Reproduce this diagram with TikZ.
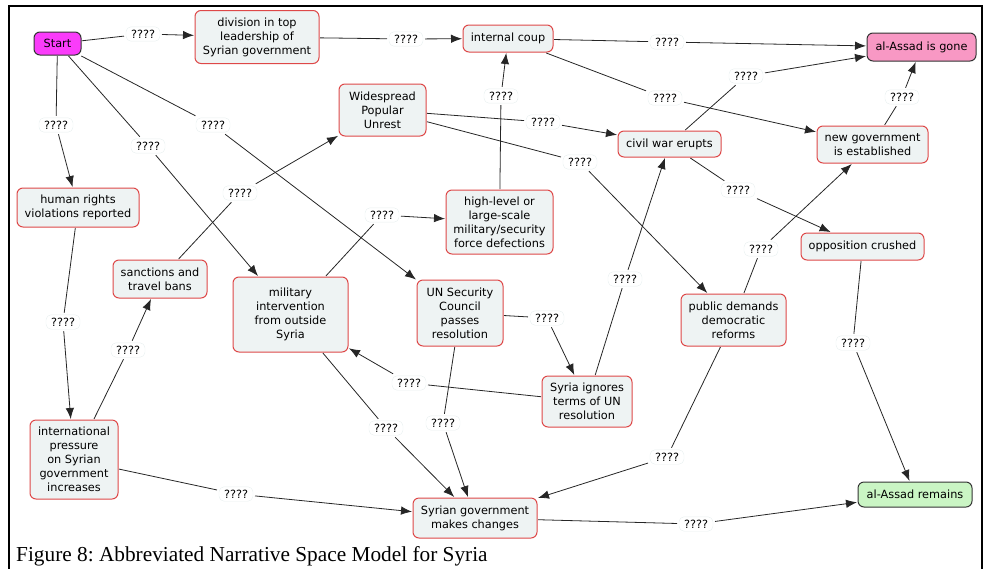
\documentclass[tikz,border=0pt]{standalone}
\usepackage{fontspec}
\usepackage{tikz}
\usetikzlibrary{arrows.meta}
\newfontfamily\mapfont{DejaVu Sans}
\newfontfamily\capfont{Liberation Serif}
\definecolor{conceptfill}{RGB}{238,243,243}
\definecolor{conceptline}{RGB}{222,72,72}
\definecolor{startfill}{RGB}{250,60,250}
\definecolor{gonefill}{RGB}{248,152,196}
\definecolor{remainsfill}{RGB}{202,245,196}
\definecolor{qline}{RGB}{232,240,240}
\tikzset{
	concept/.style={draw=conceptline, line width=1pt, fill=conceptfill, rounded corners=6pt,
		align=center, inner sep=3pt, outer sep=1pt, font=\mapfont\fontsize{11.3}{14}\selectfont},
	goal/.style={concept, draw=black!80},
	qlabel/.style={draw=qline, fill=white, rounded corners=5pt, inner xsep=5pt, inner ysep=3pt,
		outer sep=2pt, font=\mapfont\fontsize{11.3}{14}\selectfont},
	link/.style={line width=0.8pt, black!85},
	arr/.style={link, -{Latex[length=11pt,width=8.5pt]}}
}

\begin{document}
\begin{tikzpicture}[x=1pt,y=-1pt]
		%%%%% FRAME %%%%%
		\useasboundingbox (0,0) rectangle (987,568);
		\draw[line width=2.5pt] (9,569) -- (9,6) -- (982,6) -- (982,569);
		
		%%%%% CONCEPTS %%%%%
		\node[goal, fill=startfill, minimum width=47pt, minimum height=23pt] (start) at (57.5,43.5) {Start};
		\node[concept, minimum width=124pt, minimum height=53pt] (division) at (257,37) {division in top\\leadership of\\Syrian government};
		\node[concept, minimum width=90pt, minimum height=27pt] (coup) at (508,38.5) {internal coup};
		\node[goal, fill=gonefill, minimum width=109pt, minimum height=28pt] (gone) at (921.5,47) {al-Assad is gone};
		\node[concept, minimum width=87pt, minimum height=52pt] (unrest) at (382.5,110) {Widespread\\Popular\\Unrest};
		\node[concept, minimum width=103pt, minimum height=26pt] (civilwar) at (669.5,144) {civil war erupts};
		\node[concept, minimum width=111pt, minimum height=37pt] (newgov) at (872.5,144.5) {new government\\is established};
		\node[concept, minimum width=122pt, minimum height=39pt] (rights) at (78,207.5) {human rights\\violations reported};
		\node[concept, minimum width=107pt, minimum height=64pt] (defect) at (499.5,222) {high-level or\\large-scale\\military/security\\force defections};
		\node[concept, minimum width=94pt, minimum height=38pt] (sanctions) at (160,279) {sanctions and\\travel bans};
		\node[concept, minimum width=115pt, minimum height=75pt] (military) at (290.5,314.5) {military\\intervention\\from outside\\Syria};
		\node[concept, minimum width=86pt, minimum height=66pt] (unsc) at (460,313) {UN Security\\Council\\passes\\resolution};
		\node[concept, minimum width=123pt, minimum height=27pt] (crushed) at (862.5,246.5) {opposition crushed};
		\node[concept, minimum width=105pt, minimum height=52pt] (demands) at (733.5,320) {public demands\\democratic\\reforms};
		\node[concept, minimum width=90pt, minimum height=51pt] (ignores) at (587,401.5) {Syria ignores\\terms of UN\\resolution};
		\node[concept, minimum width=88pt, minimum height=79pt] (pressure) at (74,459.5) {international\\pressure\\on Syrian\\government\\increases};
		\node[concept, minimum width=124pt, minimum height=40pt] (changes) at (475,518) {Syrian government\\makes changes};
		\node[goal, fill=remainsfill, minimum width=114pt, minimum height=25pt] (remains) at (915,494.5) {al-Assad remains};
		
		%%%%% LINKING PHRASES %%%%%
		\node[qlabel] (q-start-division) at (143,34) {????};
		\node[qlabel] (q-division-coup) at (406,39) {????};
		\node[qlabel] (q-coup-gone) at (667,42) {????};
		\node[qlabel] (q-coup-newgov) at (665,98) {????};
		\node[qlabel] (q-civilwar-gone) at (746,76) {????};
		\node[qlabel] (q-newgov-gone) at (902,97) {????};
		\node[qlabel] (q-start-rights) at (56,125) {????};
		\node[qlabel] (q-start-military) at (148,146) {????};
		\node[qlabel] (q-start-unsc) at (213,125) {????};
		\node[qlabel] (q-sanctions-unrest) at (240,193) {????};
		\node[qlabel] (q-unrest-civilwar) at (543,122) {????};
		\node[qlabel] (q-unrest-demands) at (580,162) {????};
		\node[qlabel] (q-defect-coup) at (501,96) {????};
		\node[qlabel] (q-military-defect) at (382,215) {????};
		\node[qlabel] (q-civilwar-crushed) at (738,190) {????};
		\node[qlabel] (q-demands-newgov) at (761,249) {????};
		\node[qlabel] (q-ignores-civilwar) at (625,279) {????};
		\node[qlabel] (q-unsc-ignores) at (547,318) {????};
		\node[qlabel] (q-ignores-military) at (409,383) {????};
		\node[qlabel] (q-military-changes) at (386,428) {????};
		\node[qlabel] (q-unsc-changes) at (443,423) {????};
		\node[qlabel] (q-demands-changes) at (667,457) {????};
		\node[qlabel] (q-crushed-remains) at (853,343) {????};
		\node[qlabel] (q-changes-remains) at (696,524) {????};
		\node[qlabel] (q-rights-pressure) at (63,322) {????};
		\node[qlabel] (q-pressure-sanctions) at (128,350) {????};
		\node[qlabel] (q-pressure-changes) at (236,494) {????};
		
		%%%%% LINKS %%%%%
		\draw[link] (start) -- (q-start-division);
		\draw[arr] (q-start-division) -- (division);
		\draw[link] (division) -- (q-division-coup);
		\draw[arr] (q-division-coup) -- (coup);
		\draw[link] (coup) -- (q-coup-gone);
		\draw[arr] (q-coup-gone) -- (gone);
		\draw[link] (coup) -- (q-coup-newgov);
		\draw[arr] (q-coup-newgov) -- (newgov);
		\draw[link] (civilwar) -- (q-civilwar-gone);
		\draw[arr] (q-civilwar-gone) -- (gone);
		\draw[link] (newgov) -- (q-newgov-gone);
		\draw[arr] (q-newgov-gone) -- (gone);
		
		\draw[link] (start) -- (q-start-rights);
		\draw[arr] (q-start-rights) -- (rights);
		\draw[link] (start) -- (q-start-military);
		\draw[arr] (q-start-military) -- (military);
		\draw[link] (start) -- (q-start-unsc);
		\draw[arr] (q-start-unsc) -- (unsc);
		
		\draw[link] (sanctions) -- (q-sanctions-unrest);
		\draw[arr] (q-sanctions-unrest) -- (unrest);
		\draw[link] (unrest) -- (q-unrest-civilwar);
		\draw[arr] (q-unrest-civilwar) -- (civilwar);
		\draw[link] (unrest) -- (q-unrest-demands);
		\draw[arr] (q-unrest-demands) -- (demands);
		\draw[link] (defect) -- (q-defect-coup);
		\draw[arr] (q-defect-coup) -- (coup);
		\draw[link] (military) -- (q-military-defect);
		\draw[arr] (q-military-defect) -- (defect);
		
		\draw[link] (civilwar) -- (q-civilwar-crushed);
		\draw[arr] (q-civilwar-crushed) -- (crushed);
		\draw[link] (demands) -- (q-demands-newgov);
		\draw[arr] (q-demands-newgov) -- (newgov);
		\draw[link] (ignores) -- (q-ignores-civilwar);
		\draw[arr] (q-ignores-civilwar) -- (civilwar);
		\draw[link] (unsc) -- (q-unsc-ignores);
		\draw[arr] (q-unsc-ignores) -- (ignores);
		\draw[link] (ignores) -- (q-ignores-military);
		\draw[arr] (q-ignores-military) -- (military);
		
		\draw[link] (military) -- (q-military-changes);
		\draw[arr] (q-military-changes) -- (changes);
		\draw[link] (unsc) -- (q-unsc-changes);
		\draw[arr] (q-unsc-changes) -- (changes);
		\draw[link] (demands) -- (q-demands-changes);
		\draw[arr] (q-demands-changes) -- (changes);
		\draw[link] (crushed) -- (q-crushed-remains);
		\draw[arr] (q-crushed-remains) -- (remains);
		\draw[link] (changes) -- (q-changes-remains);
		\draw[arr] (q-changes-remains) -- (remains);
		
		\draw[link] (rights) -- (q-rights-pressure);
		\draw[arr] (q-rights-pressure) -- (pressure);
		\draw[link] (pressure) -- (q-pressure-sanctions);
		\draw[arr] (q-pressure-sanctions) -- (sanctions);
		\draw[link] (pressure) -- (q-pressure-changes);
		\draw[arr] (q-pressure-changes) -- (changes);
		
		%%%%% CAPTION %%%%%
		\node[anchor=base west, inner sep=0pt, font=\capfont\fontsize{21.3}{24}\selectfont\frenchspacing] (caption) at (16,561) {Figure 8: Abbreviated Narrative Space Model for Syria};
	\end{tikzpicture}
\end{document}
